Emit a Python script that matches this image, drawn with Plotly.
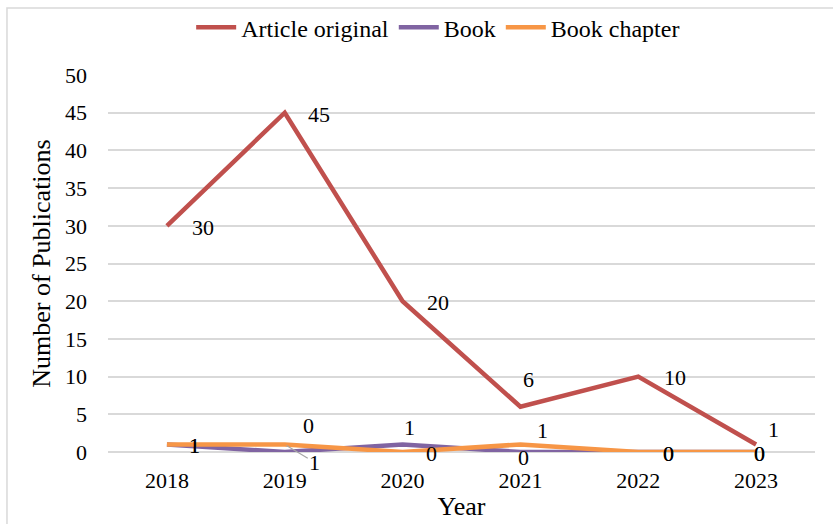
import plotly.graph_objects as go

years = ["2018", "2019", "2020", "2021", "2022", "2023"]
article = [30, 45, 20, 6, 10, 1]
book = [1, 0, 1, 0, 0, 0]
chapter = [1, 1, 0, 1, 0, 0]
y_ticks = [0, 5, 10, 15, 20, 25, 30, 35, 40, 45, 50]

FONT = "Liberation Serif, Times New Roman, serif"
series = [
    ("Article original", article, "#C0504D"),
    ("Book", book, "#8064A2"),
    ("Book chapter", chapter, "#F79646"),
]

# label offsets (pixels) per point, per series
offsets = {
    "Article original": [(36, -2), (34, -2), (35, -1), (8, 27), (37, -1), (17, 15)],
    "Book": [(28, -1), (24, 27), (7, 17), (3, -5), (30, -1), (3, -1)],
    "Book chapter": [(28, -1), (30, -18), (29, -1), (22, 14), (30, -1), (3, -1)],
}
# points whose label has a leader line
leaders = {("Book chapter", 1)}

fig = go.Figure()
for name, vals, color in series:
    fig.add_trace(go.Scatter(
        x=list(range(len(years))), y=vals, name=name, mode="lines",
        line=dict(color=color, width=4.5),
        cliponaxis=False,
    ))

annotations = []
for name, vals, color in series:
    for i, v in enumerate(vals):
        dx, dy = offsets[name][i]
        if (name, i) in leaders:
            annotations.append(dict(
                x=i, y=v, xref="x", yref="y", text=str(v),
                showarrow=True, arrowhead=0, arrowwidth=1.2, arrowcolor="#A6A6A6",
                ax=dx, ay=-dy, standoff=2,
                font=dict(family=FONT, size=22, color="#000000"),
            ))
        else:
            annotations.append(dict(
                x=i, y=v, xref="x", yref="y", text=str(v), showarrow=False,
                xshift=dx, yshift=dy,
                font=dict(family=FONT, size=22, color="#000000"),
            ))

fig.update_layout(
    width=833, height=524,
    paper_bgcolor="white", plot_bgcolor="white",
    margin=dict(l=108, r=18, t=75, b=72, autoexpand=False),
    font=dict(family=FONT, size=22, color="#000000"),
    showlegend=True,
    legend=dict(orientation="h", x=0.467, xanchor="center", y=0.99, yref="container",
                yanchor="top", font=dict(family=FONT, size=24),
                itemwidth=40, tracegroupgap=0, bgcolor="rgba(0,0,0,0)"),
    xaxis=dict(
        range=[-0.5, 5.5], tickvals=list(range(len(years))), ticktext=years,
        showgrid=False, showline=False, zeroline=False,
        ticks="", ticklabelstandoff=13, tickfont=dict(family=FONT, size=22),
        title=dict(text="Year", font=dict(family=FONT, size=26), standoff=4),
        automargin=False,
    ),
    yaxis=dict(
        range=[0, 50], tickvals=y_ticks,
        showgrid=True, gridcolor="#D9D9D9", gridwidth=1.5,
        zeroline=True, zerolinecolor="#D9D9D9", zerolinewidth=1.5,
        showline=False, ticks="", ticklabelstandoff=20,
        tickfont=dict(family=FONT, size=22),
        title=dict(text="Number of Publications", font=dict(family=FONT, size=26), standoff=6),
        automargin=False,
    ),
    annotations=annotations,
    shapes=[dict(type="rect", xref="paper", yref="paper",
                 x0=-0.1429, x1=1.035, y0=-0.207, y1=1.1777,
                 line=dict(color="#D9D9D9", width=1.5), layer="below")],
)

fig.write_html("out.html", config={"displayModeBar": False},
               post_script="document.body.style.margin='0';")
